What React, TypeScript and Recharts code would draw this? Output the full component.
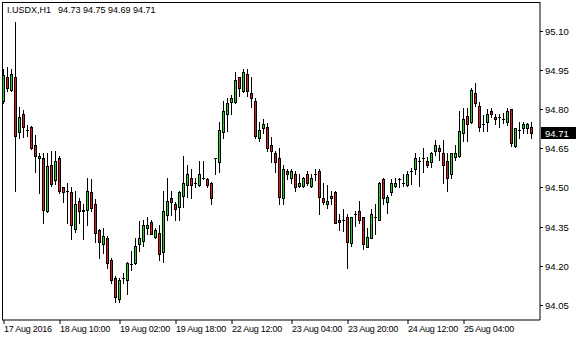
import React from 'react';
import { ComposedChart, Bar, XAxis, YAxis } from 'recharts';

// I.USDX H1 candles, 17 Aug 2016 18:00 .. 25 Aug 2016
const opens = [
  94.831, 94.923, 94.873, 94.923, 94.712, 94.781, 94.719, 94.731, 94.662, 94.612,
  94.612, 94.408, 94.588, 94.527, 94.612, 94.500, 94.488, 94.481, 94.342, 94.450,
  94.415, 94.415, 94.481, 94.438, 94.338, 94.285, 94.308, 94.223, 94.154, 94.073,
  94.154, 94.146, 94.208, 94.212, 94.285, 94.296, 94.346, 94.369, 94.312, 94.327,
  94.254, 94.396, 94.458, 94.438, 94.427, 94.469, 94.508, 94.538, 94.519, 94.508,
  94.538, 94.531, 94.519, 94.612, 94.596, 94.712, 94.781, 94.827, 94.827, 94.923,
  94.869, 94.935, 94.862, 94.831, 94.688, 94.727, 94.731, 94.662, 94.631, 94.612,
  94.458, 94.562, 94.535, 94.550, 94.504, 94.504, 94.550, 94.504, 94.550, 94.562,
  94.458, 94.438, 94.458, 94.481, 94.377, 94.377, 94.385, 94.288, 94.400, 94.408,
  94.385, 94.273, 94.308, 94.385, 94.377, 94.531, 94.446, 94.481, 94.504, 94.531,
  94.519, 94.508, 94.562, 94.569, 94.600, 94.612, 94.600, 94.596, 94.638, 94.650,
  94.631, 94.600, 94.550, 94.615, 94.619, 94.708, 94.773, 94.750, 94.862, 94.812,
  94.742, 94.750, 94.792, 94.769, 94.769, 94.762, 94.750, 94.800, 94.658, 94.719,
  94.727, 94.727, 94.730,
];
const highs = [
  94.954, 94.962, 94.954, 95.135, 94.808, 94.796, 94.738, 94.735, 94.700, 94.631,
  94.631, 94.631, 94.638, 94.638, 94.619, 94.502, 94.519, 94.500, 94.488, 94.458,
  94.438, 94.538, 94.531, 94.454, 94.340, 94.346, 94.315, 94.231, 94.162, 94.154,
  94.173, 94.214, 94.258, 94.308, 94.373, 94.377, 94.388, 94.377, 94.346, 94.358,
  94.488, 94.538, 94.488, 94.446, 94.488, 94.619, 94.588, 94.569, 94.538, 94.600,
  94.600, 94.538, 94.521, 94.614, 94.750, 94.831, 94.842, 94.854, 94.942, 94.925,
  94.954, 94.954, 94.923, 94.842, 94.750, 94.762, 94.746, 94.692, 94.638, 94.650,
  94.588, 94.569, 94.569, 94.562, 94.550, 94.542, 94.562, 94.550, 94.569, 94.569,
  94.519, 94.508, 94.488, 94.488, 94.400, 94.419, 94.400, 94.388, 94.408, 94.450,
  94.388, 94.346, 94.419, 94.438, 94.521, 94.538, 94.473, 94.531, 94.538, 94.538,
  94.550, 94.562, 94.573, 94.631, 94.615, 94.650, 94.615, 94.635, 94.681, 94.662,
  94.681, 94.631, 94.633, 94.662, 94.792, 94.804, 94.804, 94.881, 94.900, 94.827,
  94.777, 94.800, 94.804, 94.781, 94.781, 94.785, 94.804, 94.802, 94.729, 94.750,
  94.750, 94.746, 94.750,
];
const lows = [
  94.825, 94.869, 94.870, 94.485, 94.688, 94.692, 94.696, 94.648, 94.558, 94.477,
  94.365, 94.405, 94.504, 94.515, 94.477, 94.446, 94.365, 94.304, 94.331, 94.362,
  94.304, 94.358, 94.408, 94.292, 94.231, 94.250, 94.192, 94.135, 94.062, 94.062,
  94.135, 94.092, 94.185, 94.208, 94.258, 94.277, 94.323, 94.320, 94.308, 94.223,
  94.215, 94.377, 94.396, 94.377, 94.377, 94.427, 94.462, 94.458, 94.500, 94.506,
  94.531, 94.500, 94.438, 94.550, 94.558, 94.688, 94.715, 94.781, 94.825, 94.850,
  94.867, 94.850, 94.808, 94.688, 94.677, 94.708, 94.638, 94.596, 94.558, 94.438,
  94.438, 94.531, 94.519, 94.485, 94.500, 94.500, 94.508, 94.502, 94.527, 94.400,
  94.435, 94.423, 94.438, 94.363, 94.338, 94.335, 94.192, 94.277, 94.354, 94.362,
  94.265, 94.271, 94.306, 94.323, 94.375, 94.438, 94.404, 94.473, 94.500, 94.500,
  94.504, 94.504, 94.515, 94.550, 94.504, 94.558, 94.577, 94.577, 94.623, 94.604,
  94.519, 94.485, 94.538, 94.604, 94.617, 94.677, 94.677, 94.748, 94.812, 94.715,
  94.715, 94.715, 94.769, 94.742, 94.731, 94.746, 94.738, 94.658, 94.656, 94.688,
  94.708, 94.708, 94.690,
];
const closes = [
  94.931, 94.881, 94.935, 94.696, 94.769, 94.731, 94.719, 94.650, 94.619, 94.619,
  94.415, 94.581, 94.515, 94.600, 94.485, 94.481, 94.488, 94.358, 94.438, 94.408,
  94.408, 94.488, 94.423, 94.327, 94.292, 94.315, 94.212, 94.146, 94.081, 94.146,
  94.154, 94.212, 94.208, 94.277, 94.308, 94.358, 94.358, 94.323, 94.338, 94.246,
  94.408, 94.450, 94.446, 94.419, 94.481, 94.519, 94.550, 94.508, 94.519, 94.550,
  94.538, 94.508, 94.458, 94.612, 94.719, 94.792, 94.823, 94.842, 94.912, 94.881,
  94.942, 94.869, 94.842, 94.696, 94.719, 94.742, 94.650, 94.638, 94.596, 94.465,
  94.569, 94.550, 94.562, 94.500, 94.519, 94.538, 94.519, 94.538, 94.550, 94.465,
  94.446, 94.450, 94.469, 94.365, 94.369, 94.377, 94.292, 94.385, 94.400, 94.377,
  94.285, 94.312, 94.400, 94.385, 94.519, 94.458, 94.465, 94.519, 94.519, 94.531,
  94.519, 94.550, 94.562, 94.612, 94.600, 94.612, 94.588, 94.631, 94.662, 94.638,
  94.588, 94.535, 94.631, 94.631, 94.715, 94.762, 94.742, 94.873, 94.823, 94.731,
  94.742, 94.781, 94.781, 94.762, 94.769, 94.762, 94.792, 94.669, 94.727, 94.719,
  94.742, 94.742, 94.710,
];

const timeTickBars = [0, 14, 29, 43, 57, 72, 86, 101, 115];
const timeTickLabels = [
  '17 Aug 2016', '18 Aug 10:00', '19 Aug 02:00', '19 Aug 18:00', '22 Aug 12:00',
  '23 Aug 04:00', '23 Aug 20:00', '24 Aug 12:00', '25 Aug 04:00',
];
const priceTicks = [94.05, 94.2, 94.35, 94.5, 94.65, 94.8, 94.95, 95.1];
const symbol = 'I.USDX,H1';

const FONT = '"Liberation Sans", Arial, sans-serif';
const UP = '#1ed41e';
const DOWN = '#e01b1b';

const last = closes.length - 1;
const data = opens.map((o, i) => ({
  i,
  o,
  h: highs[i],
  l: lows[i],
  c: closes[i],
  range: [lows[i], highs[i]],
}));

function Candle(props: any) {
  const { x, y, width, height, payload } = props;
  if (!payload) return null;
  const top = Math.min(y, y + height);
  const bot = Math.max(y, y + height);
  const { o, h, l, c } = payload;
  const k = (bot - top) / (h - l || 1);
  const py = (v: number) => Math.round(top + (h - v) * k);
  const cx = Math.floor(x + width / 2);
  const yo = py(o);
  const yc = py(c);
  const y1 = Math.min(yo, yc);
  const y2 = Math.max(yo, yc);
  return (
    <g>
      <line x1={cx + 0.5} x2={cx + 0.5} y1={Math.round(top)} y2={Math.round(bot) + 1} stroke="#000" strokeWidth={1} />
      {y1 === y2 ? (
        <line x1={cx - 1} x2={cx + 2} y1={y1 + 0.5} y2={y1 + 0.5} stroke="#000" strokeWidth={1} />
      ) : (
        <rect x={cx - 0.5} y={y1 + 0.5} width={2} height={y2 - y1} fill={c >= o ? UP : DOWN} stroke="#000" strokeWidth={1} />
      )}
    </g>
  );
}

function TimeTick(props: any) {
  const { x, y, payload } = props;
  const n = timeTickBars.indexOf(payload.value);
  return (
    <text x={Math.floor(x)} y={y} dy={6} textAnchor="start" fontFamily={FONT} fontSize={9} letterSpacing={-0.25} fill="#000">
      {n >= 0 ? timeTickLabels[n] : ''}
    </text>
  );
}

function PriceTick(props: any) {
  const { x, y, payload } = props;
  const v = payload.value;
  const ax = x - 5;
  const yy = Math.round(y);
  if (Math.abs(v - closes[last]) < 1e-9) {
    return (
      <g>
        <rect x={ax + 1} y={yy - 6} width={35} height={12} fill="#000" />
        <text x={x} y={yy} dy={3.5} textAnchor="start" fontFamily={FONT} fontSize={9.5} fill="#fff">
          {v.toFixed(2)}
        </text>
      </g>
    );
  }
  return (
    <g>
      <line x1={ax} x2={ax + 3} y1={yy + 0.5} y2={yy + 0.5} stroke="#000" />
      <text x={x} y={yy} dy={3.5} textAnchor="start" fontFamily={FONT} fontSize={9.5} fill="#000">
        {v.toFixed(2)}
      </text>
    </g>
  );
}

export default function App() {
  return (
    <div style={{ position: 'absolute', left: 0, top: 0, width: 580, height: 340, background: '#fff' }}>
      <ComposedChart width={580} height={340} data={data} margin={{ top: 2, right: 0, bottom: 0, left: 2 }}>
        <XAxis
          dataKey="i"
          type="category"
          ticks={timeTickBars}
          interval={0}
          height={20}
          tickSize={4}
          tickMargin={2}
          padding={{ left: 0, right: 6 }}
          axisLine={{ stroke: '#000' }}
          tickLine={{ stroke: '#000' }}
          tick={<TimeTick />}
        />
        <YAxis
          orientation="right"
          width={40}
          domain={[93.992, 95.211]}
          allowDataOverflow
          ticks={[...priceTicks, closes[last]]}
          interval={0}
          tickSize={3}
          tickMargin={2}
          axisLine={{ stroke: '#000' }}
          tickLine={false}
          tick={<PriceTick />}
        />
        <Bar dataKey="range" shape={(p: any) => <Candle {...p} />} isAnimationActive={false} />
      </ComposedChart>
      <div
        style={{
          position: 'absolute', left: 2, top: 2, width: 538, height: 318,
          borderLeft: '1px solid #000', borderTop: '1px solid #000', boxSizing: 'border-box', pointerEvents: 'none',
        }}
      />
      <div style={{ position: 'absolute', left: 7, top: 6, fontFamily: FONT, fontSize: 9, lineHeight: '9px', color: '#000', whiteSpace: 'pre' }}>
        {symbol}
        <span style={{ marginLeft: 7 }}>
          {[opens[last], highs[last], lows[last], closes[last]].map((v) => v.toFixed(2)).join(' ')}
        </span>
      </div>
    </div>
  );
}
